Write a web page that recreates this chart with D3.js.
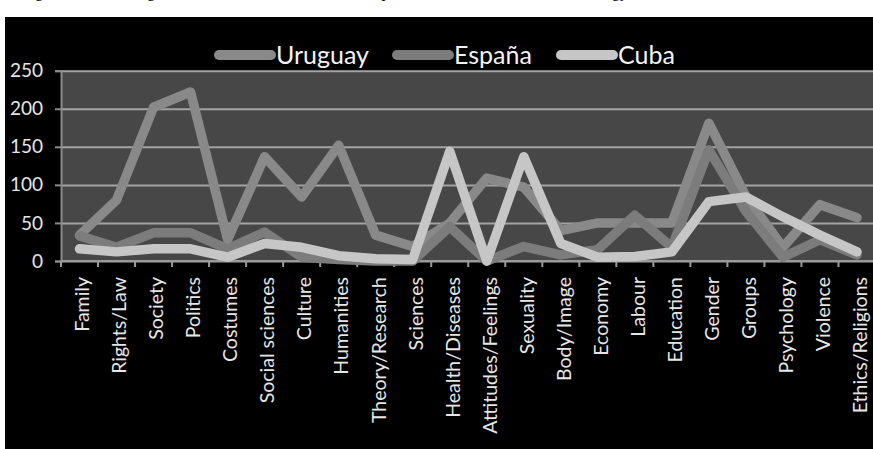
<!DOCTYPE html>
<html><head><meta charset="utf-8">
<script src="https://cdn.jsdelivr.net/npm/d3@7"></script>
<style>body{margin:0;background:#fff;} svg{display:block;}</style>
</head><body><svg id="c" width="873" height="449"></svg>
<script>
const categories = ["Family","Rights/Law","Society","Politics","Costumes","Social sciences","Culture","Humanities","Theory/Research","Sciences","Health/Diseases","Attitudes/Feelings","Sexuality","Body/Image","Economy","Labour","Education","Gender","Groups","Psychology","Violence","Ethics/Religions"];
const uruguay = [34,80,202,222,28,137,84,152,34,19,50,109,97,40,50,50,50,181,85,18,74,57];
const espana  = [33,18,37,37,16,38,5,2,0,0,45,0,19,8,15,60,18,146,65,5,28,8];
const cuba    = [16,12,16,16,5,23,18,7,3,2,144,0,137,23,5,6,12,78,84,58,34,12];
const seriesNames = ["Uruguay","España","Cuba"];
const yTicks = [0,50,100,150,200,250];
const caption = "Figure 3. Main categories of the theses held in each sample, and the main area of methodology";

const seriesColors = ["#898989","#7c7c7c","#c6c6c6"];
const svg = d3.select("#c");
const W = 873, H = 449;

// background and cropped caption line
svg.append("rect").attr("x",0).attr("y",0).attr("width",W).attr("height",H).attr("fill","#fff");
svg.append("text").attr("x",22).attr("y",-3).attr("font-family","Liberation Serif").attr("font-size",16).attr("fill","#000").text(caption);
svg.append("rect").attr("x",5).attr("y",17).attr("width",W-5).attr("height",H-17).attr("fill","#000");

const plot = {left:61, right:875.5, top:70.7, bottom:261};
const x = d3.scaleBand().domain(categories).range([plot.left, plot.right]).padding(0);
const y = d3.scaleLinear().domain([0,250]).range([plot.bottom, plot.top]);
const cx = d => x(d) + x.bandwidth()/2;

// plot background
svg.append("rect").attr("x",plot.left).attr("y",plot.top).attr("width",plot.right-plot.left).attr("height",plot.bottom-plot.top).attr("fill","#474747");

// gridlines
const grid = svg.append("g").attr("transform",`translate(${plot.left},0)`)
  .call(d3.axisLeft(y).tickValues(yTicks).tickSize(-(plot.right-plot.left)).tickFormat(""));
grid.select(".domain").remove();
grid.selectAll("line").attr("stroke","#a3a3a3").attr("stroke-width",2);

// y axis
const ya = svg.append("g").attr("transform",`translate(${plot.left},0)`)
  .call(d3.axisLeft(y).tickValues(yTicks).tickSize(6).tickPadding(12));
ya.select(".domain").attr("stroke","#8c8c8c").attr("stroke-width",2);
ya.selectAll("line").attr("stroke","#8c8c8c").attr("stroke-width",2);
ya.selectAll("text").attr("font-family","Lato").attr("font-size",19).attr("fill","#e6e6e6");

// x axis baseline and boundary ticks
svg.append("line").attr("x1",plot.left).attr("x2",plot.right).attr("y1",plot.bottom).attr("y2",plot.bottom).attr("stroke","#9a9a9a").attr("stroke-width",2);
svg.append("g").selectAll("line").data(categories).join("line")
  .attr("x1",d=>x(d)).attr("x2",d=>x(d)).attr("y1",plot.bottom).attr("y2",plot.bottom+6)
  .attr("stroke","#9a9a9a").attr("stroke-width",2);
const xa = svg.append("g").attr("transform",`translate(0,${plot.bottom})`)
  .call(d3.axisBottom(x).tickSize(0).tickPadding(0));
xa.select(".domain").remove();
xa.selectAll("text")
  .attr("font-family","Lato").attr("font-size",19.5).attr("fill","#e6e6e6")
  .attr("text-anchor","end")
  .attr("transform","translate(0,16) rotate(-90)")
  .attr("dy","0.35em").attr("dx",0).attr("x",0).attr("y",3);

// lines
const data = [uruguay, espana, cuba];
const line = d3.line().x((v,i)=>cx(categories[i])).y(v=>y(v));
svg.append("g").selectAll("path").data(data).join("path")
  .attr("d",line).attr("fill","none")
  .attr("stroke",(d,i)=>seriesColors[i]).attr("stroke-width",9.5)
  .attr("stroke-linejoin","round").attr("stroke-linecap","round");

// legend
const legendX = [215, 393, 557];
const lg = svg.append("g").selectAll("g").data(seriesNames).join("g")
  .attr("transform",(d,i)=>`translate(${legendX[i]},55)`);
lg.append("line").attr("x1",4).attr("x2",56).attr("y1",0).attr("y2",0)
  .attr("stroke",(d,i)=>seriesColors[i]).attr("stroke-width",10).attr("stroke-linecap","round");
lg.append("text").attr("x",61).attr("y",9).attr("font-family","Lato").attr("font-size",25).attr("fill","#f2f2f2").text(d=>d);
</script>
</body></html>
